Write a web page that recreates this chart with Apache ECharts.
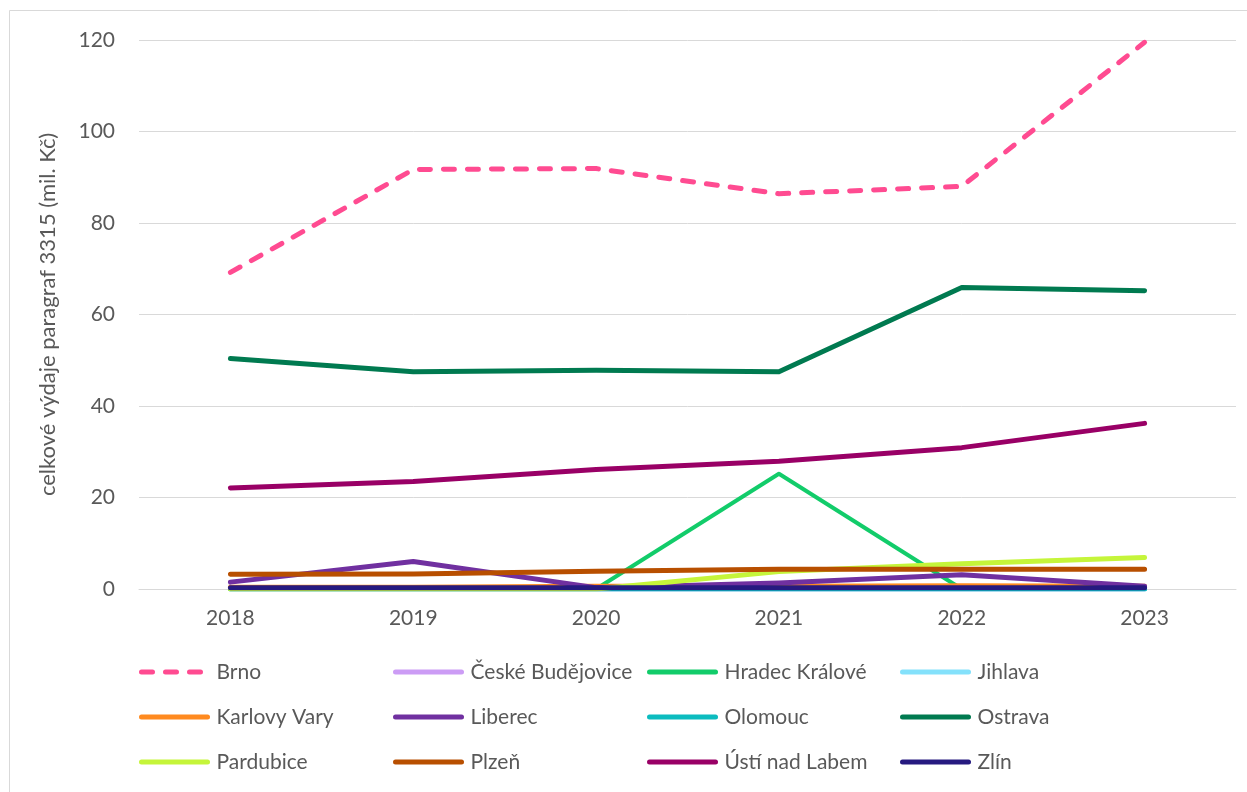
<!DOCTYPE html>
<html>
<head>
<meta charset="utf-8">
<script src="https://cdn.jsdelivr.net/npm/echarts@6/dist/echarts.min.js"></script>
<style>
html, body { margin: 0; padding: 0; background: #fff; }
#chart { width: 1247px; height: 792px; }
</style>
</head>
<body>
<div id="chart"></div>
<script>
// data
var years = ['2018', '2019', '2020', '2021', '2022', '2023'];
var brno = [69.2, 91.7, 91.9, 86.4, 88.0, 119.5];
var ceskeBudejovice = [0, 0, 0, 0, 0, 0];
var hradecKralove = [0, 0, 0, 25.2, 0, 0];
var jihlava = [0, 0, 0, 0, 0, 0];
var karlovyVary = [0.4, 0.4, 0.6, 0.6, 0.7, 0.6];
var liberec = [1.5, 6.0, 0.3, 1.3, 3.1, 0.6];
var olomouc = [0, 0, 0, 0, 0, 0];
var ostrava = [50.4, 47.5, 47.8, 47.5, 65.9, 65.2];
var pardubice = [0, 0, 0, 3.8, 5.5, 6.9];
var plzen = [3.2, 3.3, 3.9, 4.3, 4.3, 4.3];
var ustiNadLabem = [22.1, 23.5, 26.1, 27.9, 30.9, 36.2];
var zlin = [0.3, 0.3, 0.3, 0.3, 0.3, 0.3];

// legend layout: 4 columns x 3 rows
var legendRows = [
	['Brno', 'České Budějovice', 'Hradec Králové', 'Jihlava'],
	['Karlovy Vary', 'Liberec', 'Olomouc', 'Ostrava'],
	['Pardubice', 'Plzeň', 'Ústí nad Labem', 'Zlín']
];

var font = 'Lato';
var chart = echarts.init(document.getElementById('chart'));

function line(name, data, color, width, dashed) {
	var s = {
		name: name,
		type: 'line',
		data: data,
		symbol: 'none',
		smooth: false,
		lineStyle: { color: color, width: width || 5, cap: 'round', join: 'round' },
		itemStyle: { color: color },
		emphasis: { disabled: true }
	};
	if (dashed) {
		s.lineStyle.type = [11, 13];
	}
	return s;
}

var legends = [];
var colLeft = [139, 393, 647, 900];
var rowMid = [672, 717, 762];
legendRows.forEach(function(row, r) {
	row.forEach(function(name, c) {
		legends.push({
			left: colLeft[c],
			top: rowMid[r] - 12,
			padding: 0,
			itemWidth: 66,
			itemHeight: 5,
			selectedMode: false,
			itemStyle: { opacity: 0 },
			lineStyle: { width: 5, cap: 'round' },
			textStyle: { fontFamily: font, fontSize: 21, color: '#595959', lineHeight: 24, padding: [0, 0, 0, 4] },
			data: [name]
		});
	});
});

chart.setOption({
	animation: false,
	backgroundColor: '#fff',
	graphic: [{
		type: 'rect',
		shape: { x: 9.5, y: 10.5, width: 1260, height: 800 },
		style: { fill: 'none', stroke: '#d9d9d9', lineWidth: 1 }
	}],
	grid: { left: 139, right: 11, top: 40, height: 549 },
	legend: legends,
	xAxis: {
		type: 'category',
		data: years,
		boundaryGap: true,
		axisLine: { lineStyle: { color: '#d9d9d9', width: 1 } },
		axisTick: { show: false },
		axisLabel: { fontFamily: font, fontSize: 21, color: '#595959', margin: 19 }
	},
	yAxis: {
		type: 'value',
		min: 0,
		max: 120,
		interval: 20,
		name: 'celkové výdaje paragraf 3315 (mil. Kč)',
		nameLocation: 'middle',
		nameGap: 80,
		nameTextStyle: { fontFamily: font, fontSize: 22, color: '#595959' },
		axisLine: { show: false },
		axisTick: { show: false },
		splitLine: { lineStyle: { color: '#d9d9d9', width: 1 } },
		axisLabel: { fontFamily: font, fontSize: 21, color: '#595959', margin: 24 }
	},
	series: [
		line('Brno', brno, '#ff4b91', 5, true),
		line('České Budějovice', ceskeBudejovice, '#cc9cf5', 5),
		line('Hradec Králové', hradecKralove, '#12cc6a', 4),
		line('Jihlava', jihlava, '#84e1fb', 5),
		line('Karlovy Vary', karlovyVary, '#ff8a1f', 5),
		line('Liberec', liberec, '#7030a0', 5),
		line('Olomouc', olomouc, '#0cbcbf', 5),
		line('Ostrava', ostrava, '#007a50', 5),
		line('Pardubice', pardubice, '#c5f53a', 5),
		line('Plzeň', plzen, '#b84f00', 5),
		line('Ústí nad Labem', ustiNadLabem, '#990066', 5),
		line('Zlín', zlin, '#261a80', 5)
	]
});
</script>
</body>
</html>
